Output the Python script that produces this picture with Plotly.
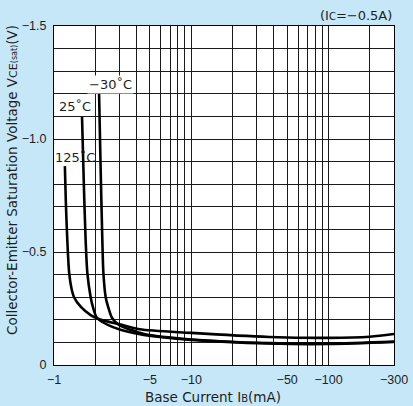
import plotly.graph_objects as go

# ---- data (magnitudes; labels carry the minus sign) ----
ib_125 = [1.20, 1.22, 1.25, 1.29, 1.34, 1.40, 1.57, 1.86, 2.2, 3.0, 4.2, 10, 37, 100, 200, 300]
v_125 = [0.88, 0.72, 0.553, 0.407, 0.34, 0.30, 0.257, 0.22, 0.20, 0.18, 0.158, 0.142, 0.124, 0.12, 0.125, 0.137]

ib_25 = [1.60, 1.65, 1.70, 1.75, 1.85, 1.92, 2.06, 2.56, 3.3, 4.5, 10, 37, 100, 300]
v_25 = [1.097, 0.80, 0.553, 0.407, 0.30, 0.257, 0.208, 0.173, 0.15, 0.133, 0.111, 0.095, 0.093, 0.102]

ib_m30 = [2.13, 2.19, 2.25, 2.29, 2.38, 2.48, 2.65, 2.98, 3.64, 4.53, 10, 37, 100, 300]
v_m30 = [1.20, 0.85, 0.553, 0.407, 0.30, 0.257, 0.208, 0.177, 0.155, 0.137, 0.113, 0.097, 0.095, 0.104]

x_grid = [1, 2, 3, 4, 5, 6, 7, 8, 9, 10, 20, 30, 40, 50, 60, 70, 80, 90, 100, 200, 300]
x_labels = {1: "−1", 5: "−5", 10: "−10", 50: "−50", 100: "−100", 300: "−300"}
y_grid = [round(i * 0.1, 1) for i in range(16)]
y_labels = {0.0: "0", 0.5: "−0.5", 1.0: "−1.0", 1.5: "−1.5"}

series = [("125˚C", ib_125, v_125), ("25˚C", ib_25, v_25), ("−30˚C", ib_m30, v_m30)]

FONT = "Liberation Sans, Arial, sans-serif"
WFONT = "DejaVu Sans, Verdana, sans-serif"
BG = "#c6e7f8"
TXT = "#1e1e1e"

fig = go.Figure()
for name, xs, ys in series:
    fig.add_trace(go.Scatter(x=xs, y=ys, mode="lines", name=name,
                             line=dict(color="black", width=2.6, shape="spline", smoothing=0.8),
                             showlegend=False, hoverinfo="skip"))

fig.update_layout(
    width=413, height=406, autosize=False,
    margin=dict(l=54, r=19, t=26, b=41),
    paper_bgcolor=BG, plot_bgcolor="white",
    font=dict(family=FONT, size=12.5, color=TXT),
)
fig.update_xaxes(
    type="log", range=[0, 2.4771], automargin=False,
    tickmode="array", tickvals=x_grid,
    ticktext=[x_labels.get(v, "") for v in x_grid],
    showgrid=True, gridcolor="#1a1a1a", gridwidth=1,
    showline=True, mirror=True, linecolor="black", linewidth=1,
    ticks="", ticklabelstandoff=3, zeroline=False,
)
fig.update_yaxes(
    range=[0, 1.5], automargin=False,
    tickmode="array", tickvals=y_grid,
    ticktext=[y_labels.get(v, "") for v in y_grid],
    showgrid=True, gridcolor="#1a1a1a", gridwidth=1,
    showline=True, mirror=True, linecolor="black", linewidth=1,
    ticks="", ticklabelstandoff=4, zeroline=False,
    tickfont=dict(family=FONT, size=12.5, color=TXT),
)

# white patch behind the 125°C label inside the plot
fig.add_shape(type="rect", xref="x", yref="y", x0=1.0, x1=1.55, y0=0.885, y1=0.955,
              fillcolor="white", line=dict(width=0), layer="between")

lab = dict(family=WFONT, size=13)
fig.add_annotation(x=0.412, y=1.243, xref="x", yref="y", text="−30˚C", showarrow=False,
                   bgcolor="white", borderpad=1, font=lab)
fig.add_annotation(x=0.153, y=1.142, xref="x", yref="y", text="25˚C", showarrow=False,
                   bgcolor="white", borderpad=1, font=lab)
fig.add_annotation(x=-0.0044, y=0.916, xref="paper", yref="y", text="125˚C", showarrow=False,
                   font=lab)

fig.add_annotation(x=1.0, y=1.0295, xref="paper", yref="paper", xanchor="right", yanchor="middle",
                   text="(I<span style='font-size:10px'>C</span>=−0.5A)", showarrow=False,
                   font=dict(family=WFONT, size=13))
fig.add_annotation(x=0.468, y=-0.094, xref="paper", yref="paper", xanchor="center", yanchor="middle",
                   text="Base Current I<span style='font-size:10px'>B</span>(mA)", showarrow=False,
                   font=dict(family=WFONT, size=13.5))
fig.add_annotation(x=-0.1235, y=0.546, xref="paper", yref="paper", xanchor="center", yanchor="middle",
                   textangle=-90,
                   text="Collector-Emitter Saturation Voltage V<span style='font-size:11px'>CE</span>"
                        "<span style='font-size:8px'>(sat)</span>(V)",
                   showarrow=False, font=dict(family=WFONT, size=13.5))

fig.write_html("out.html", config={"displayModeBar": False},
               post_script="document.body.style.margin='0';document.body.style.overflow='hidden';")
